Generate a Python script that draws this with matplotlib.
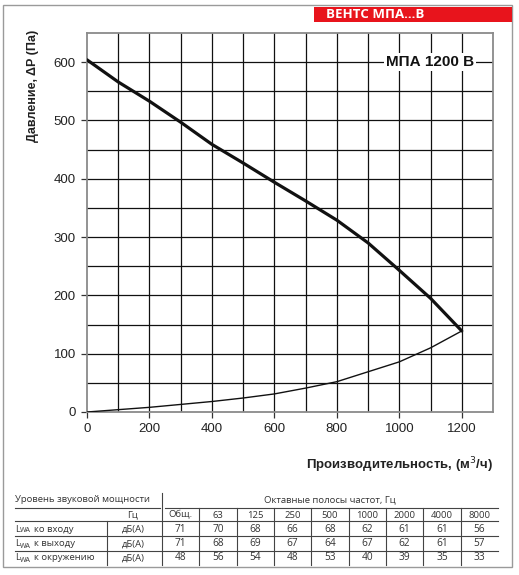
import matplotlib
matplotlib.use("Agg")
import matplotlib.pyplot as plt
from matplotlib.lines import Line2D
from matplotlib.patches import Rectangle

# fan curve and system curve
flow = [0, 100, 200, 300, 400, 500, 600, 700, 800, 900, 1000, 1100, 1200]
fan_pressure = [604, 566, 533, 497, 459, 427, 394, 362, 329, 290, 243, 195, 139]
system_pressure = [0, 4, 8, 13, 18, 24, 31, 41, 52, 69, 86, 110, 139]

x_ticks = [0, 200, 400, 600, 800, 1000, 1200]
y_ticks = [0, 100, 200, 300, 400, 500, 600]

# sound power table
bands = ["Общ.", "63", "125", "250", "500", "1000", "2000", "4000", "8000"]
row_names = ["ко входу", "к выходу", "к окружению"]
lwa_inlet = [71, 70, 68, 66, 68, 62, 61, 61, 56]
lwa_outlet = [71, 68, 69, 67, 64, 67, 62, 61, 57]
lwa_around = [48, 56, 54, 48, 53, 40, 39, 35, 33]

W, H = 519, 575
fig = plt.figure(figsize=(W / 100, H / 100), dpi=100)


def fx(px):
    return px / W


def fy(py):
    return 1 - py / H


def hline(x0, x1, y, color="#444444", lw=0.8):
    fig.add_artist(Line2D([fx(x0), fx(x1)], [fy(y), fy(y)], color=color, lw=lw))


def vline(x, y0, y1, color="#444444", lw=0.8):
    fig.add_artist(Line2D([fx(x), fx(x)], [fy(y0), fy(y1)], color=color, lw=lw))


# outer frame and banner
fig.add_artist(Rectangle((fx(3), fy(567)), fx(512) - fx(3), fy(5) - fy(567),
                         fill=False, edgecolor="#9a9a9a", lw=1.0))
fig.add_artist(Rectangle((fx(314), fy(22)), fx(512) - fx(314), fy(7) - fy(22),
                         facecolor="#e8141c", edgecolor="none"))
fig.text(fx(326), fy(14.5), "ВЕНТС МПА...В", color="white", fontsize=9.5,
         fontweight="bold", family="Open Sans", ha="left", va="center")

# chart
ax = fig.add_axes([fx(87), fy(412), fx(493) - fx(87), fy(33) - fy(412)])
ax.set_xlim(0, 1300)
ax.set_ylim(0, 650)

for gx in range(100, 1300, 100):
    ax.axvline(gx, color="#111111", lw=0.9, zorder=1)
for gy in range(50, 650, 50):
    ax.axhline(gy, color="#111111", lw=0.9, zorder=1)

ax.plot(flow, fan_pressure, color="#111111", lw=2.3, zorder=3,
        solid_capstyle="round")
ax.plot(flow, system_pressure, color="#111111", lw=1.0, zorder=3)

for side in ax.spines.values():
    side.set_color("#8a8a8a")
    side.set_linewidth(1.3)

ax.set_xticks(x_ticks)
ax.set_yticks(y_ticks)
ax.tick_params(direction="out", length=4, width=0.9, color="#333333",
               labelsize=9.5, labelcolor="#222222", pad=4)
for lab in ax.get_xticklabels() + ax.get_yticklabels():
    lab.set_family("Liberation Sans")

ax.text(1098, 600, "МПА 1200 B", fontsize=11, fontweight="bold",
        family="Liberation Sans", color="#111111", ha="center", va="center",
        zorder=4, bbox=dict(facecolor="white", edgecolor="none", pad=1.5))

fig.text(fx(33), fy(30), "Давление, ΔP (Па)", rotation=90, ha="center",
         va="top", fontsize=9, fontweight="bold", family="Liberation Sans",
         color="#222222")
fig.text(fx(493), fy(465), "Производительность, (м$^3$/ч)", ha="right",
         va="center", fontsize=9.5, fontweight="bold",
         family="Liberation Sans", color="#222222")

# table
tfont = dict(family="Open Sans", fontsize=6.8, color="#333333")
col0 = 162
col_w = (498 - col0) / len(bands)
centers = [col0 + col_w * (i + 0.5) for i in range(len(bands))]

fig.text(fx(15), fy(500), "Уровень звуковой мощности", ha="left",
         va="center", **tfont)
fig.text(fx(330), fy(500), "Октавные полосы частот, Гц", ha="center",
         va="center", **tfont)
fig.text(fx(133), fy(515), "Гц", ha="center", va="center", **tfont)
for c, b in zip(centers, bands):
    fig.text(fx(c), fy(515), b, ha="center", va="center", **tfont)

row_y = [529, 544, 558]
for y, name, vals in zip(row_y, row_names, [lwa_inlet, lwa_outlet, lwa_around]):
    fig.text(fx(15), fy(y), "L", ha="left", va="center", **tfont)
    fig.text(fx(20), fy(y + 2), "WA", ha="left", va="center",
             family="Open Sans", fontsize=5, color="#333333")
    fig.text(fx(34), fy(y), name, ha="left", va="center", **tfont)
    fig.text(fx(133), fy(y), "дБ(А)", ha="center", va="center", **tfont)
    for c, v in zip(centers, vals):
        fig.text(fx(c), fy(y), str(v), ha="center", va="center",
                 family="Open Sans", fontsize=7.3, color="#333333")

hline(15, 160, 508)
hline(165, 498, 508)
for y in [521, 536, 551]:
    hline(15, 498, y)
vline(162, 493, 565)
vline(107, 521, 565)
for i in range(1, len(bands)):
    vline(col0 + col_w * i, 508, 565)

fig.savefig("out.png", dpi=100)
